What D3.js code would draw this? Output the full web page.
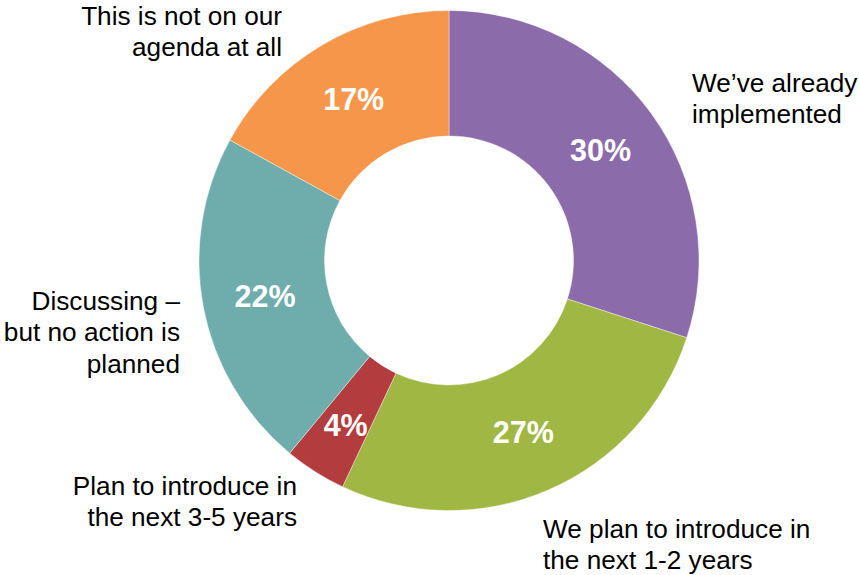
<!DOCTYPE html>
<html>
<head>
<meta charset="utf-8">
<script src="https://cdn.jsdelivr.net/npm/d3@7"></script>
<style>
  html, body { margin: 0; padding: 0; background: #fff; }
  svg { display: block; }
</style>
</head>
<body>
<svg id="chart" width="859" height="575"></svg>
<script>
// ---- Data ----
const categories = [
  "We’ve already implemented",
  "We plan to introduce in the next 1-2 years",
  "Plan to introduce in the next 3-5 years",
  "Discussing – but no action is planned",
  "This is not on our agenda at all"
];
const values = [30, 27, 4, 22, 17];
const labelLines = [
  ["We’ve already", "implemented"],
  ["We plan to introduce in", "the next 1-2 years"],
  ["Plan to introduce in", "the next 3-5 years"],
  ["Discussing –", "but no action is", "planned"],
  ["This is not on our", "agenda at all"]
];
const colors = ["#8C6BAB", "#A1B743", "#B33C3E", "#6EADAC", "#F6964A"];

// ---- Layout ----
const W = 859, H = 575;
const cx = 449, cy = 260.5;
const outerR = 250, innerR = 124.5;
// outer label placement: [x, first baseline, anchor]
const labelLayout = [
  [692, 92, "start"],
  [543, 537.5, "start"],
  [297, 495, "end"],
  [180, 310, "end"],
  [282, 25, "end"]
];
const lineH = 31.3;

const svg = d3.select("#chart");
const g = svg.append("g").attr("transform", `translate(${cx},${cy})`);

const pie = d3.pie().sort(null).value(d => d)(values);
const arc = d3.arc().innerRadius(innerR).outerRadius(outerR);

g.selectAll("path.slice")
  .data(pie)
  .join("path")
  .attr("class", "slice")
  .attr("d", arc)
  .attr("fill", (d, i) => colors[i])
  .attr("stroke", "#fff")
  .attr("stroke-width", 0.4);

const pctNudge = [[0, 0], [0, 0], [-3, 6], [0, 0], [0, 0]];
g.selectAll("text.pct")
  .data(pie)
  .join("text")
  .attr("class", "pct")
  .attr("x", (d, i) => arc.centroid(d)[0] + pctNudge[i][0])
  .attr("y", (d, i) => arc.centroid(d)[1] + pctNudge[i][1])
  .attr("dy", "0.36em")
  .attr("text-anchor", "middle")
  .attr("fill", "#fff")
  .attr("font-family", "'Liberation Sans', Arial, sans-serif")
  .attr("font-weight", "bold")
  .attr("font-size", 30.5)
  .text(d => d.data + "%");

const lbl = svg.selectAll("text.lbl")
  .data(labelLines)
  .join("text")
  .attr("class", "lbl")
  .attr("text-anchor", (d, i) => labelLayout[i][2])
  .attr("font-family", "'Liberation Sans', Arial, sans-serif")
  .attr("font-size", 26.2)
  .attr("fill", "#000");

lbl.each(function(lines, i) {
  const t = d3.select(this);
  lines.forEach((ln, j) => {
    t.append("tspan")
      .attr("x", labelLayout[i][0])
      .attr("y", labelLayout[i][1] + j * lineH)
      .text(ln);
  });
});
</script>
</body>
</html>
